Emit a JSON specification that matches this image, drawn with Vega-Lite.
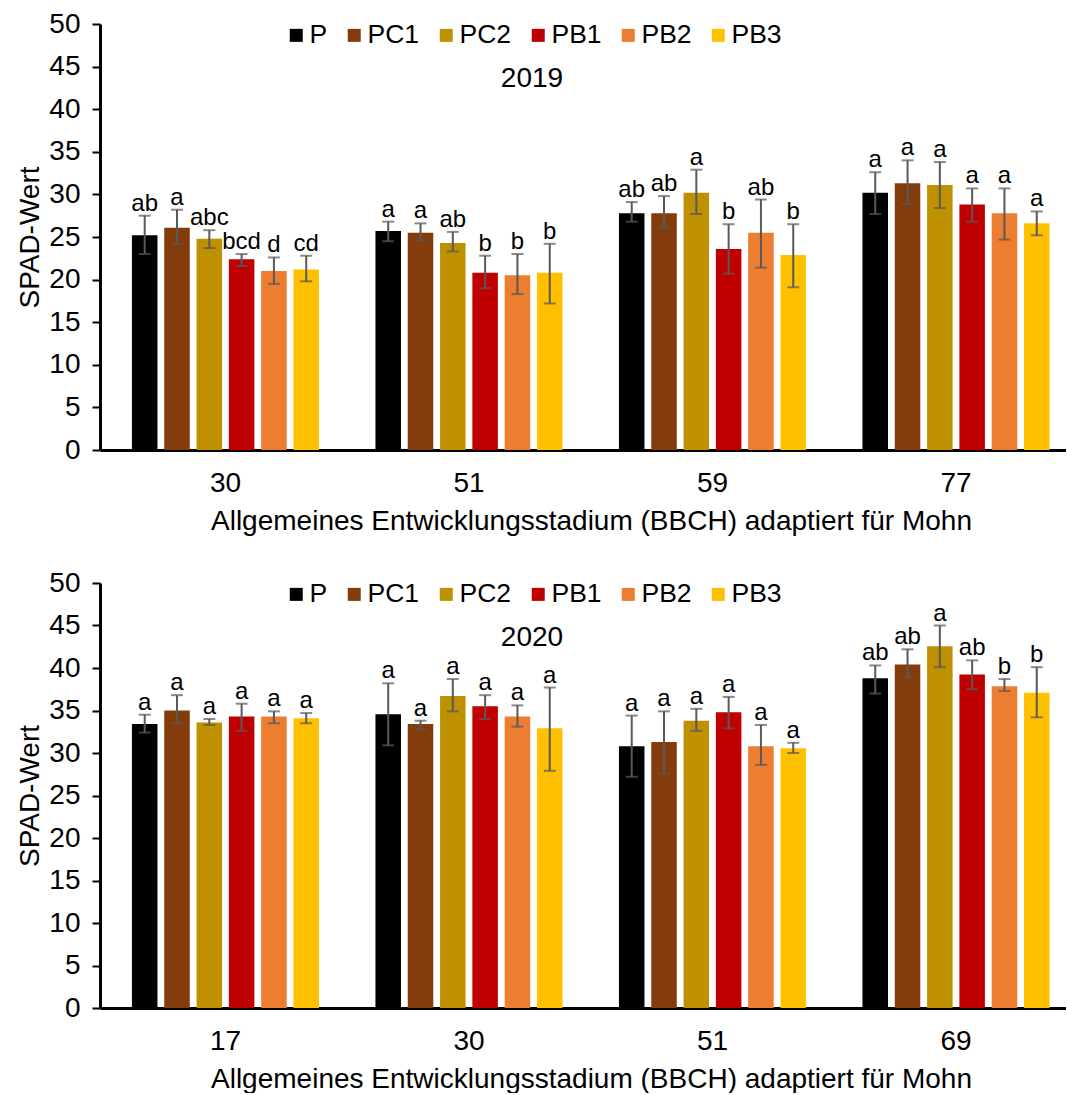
{
  "$schema": "https://vega.github.io/schema/vega-lite/v6.json",
  "background": "white",
  "padding": {"left": 16, "top": 10, "right": 0, "bottom": 0},
  "datasets": {
    "spad": [
      {"year": "2019", "stage": "30", "trt": "P", "mean": 25.2, "lo": 23.0, "hi": 27.5, "sig": "ab"},
      {"year": "2019", "stage": "30", "trt": "PC1", "mean": 26.1, "lo": 24.2, "hi": 28.2, "sig": "a"},
      {"year": "2019", "stage": "30", "trt": "PC2", "mean": 24.8, "lo": 23.7, "hi": 25.8, "sig": "abc"},
      {"year": "2019", "stage": "30", "trt": "PB1", "mean": 22.4, "lo": 21.6, "hi": 23.0, "sig": "bcd"},
      {"year": "2019", "stage": "30", "trt": "PB2", "mean": 21.0, "lo": 19.5, "hi": 22.6, "sig": "d"},
      {"year": "2019", "stage": "30", "trt": "PB3", "mean": 21.2, "lo": 19.8, "hi": 22.8, "sig": "cd"},
      {"year": "2019", "stage": "51", "trt": "P", "mean": 25.7, "lo": 24.5, "hi": 26.8, "sig": "a"},
      {"year": "2019", "stage": "51", "trt": "PC1", "mean": 25.5, "lo": 24.6, "hi": 26.6, "sig": "a"},
      {"year": "2019", "stage": "51", "trt": "PC2", "mean": 24.3, "lo": 23.3, "hi": 25.6, "sig": "ab"},
      {"year": "2019", "stage": "51", "trt": "PB1", "mean": 20.8, "lo": 19.0, "hi": 22.8, "sig": "b"},
      {"year": "2019", "stage": "51", "trt": "PB2", "mean": 20.5, "lo": 18.3, "hi": 23.0, "sig": "b"},
      {"year": "2019", "stage": "51", "trt": "PB3", "mean": 20.8, "lo": 17.2, "hi": 24.2, "sig": "b"},
      {"year": "2019", "stage": "59", "trt": "P", "mean": 27.8, "lo": 26.8, "hi": 29.1, "sig": "ab"},
      {"year": "2019", "stage": "59", "trt": "PC1", "mean": 27.8, "lo": 26.1, "hi": 29.8, "sig": "ab"},
      {"year": "2019", "stage": "59", "trt": "PC2", "mean": 30.2, "lo": 27.7, "hi": 32.9, "sig": "a"},
      {"year": "2019", "stage": "59", "trt": "PB1", "mean": 23.6, "lo": 20.7, "hi": 26.5, "sig": "b"},
      {"year": "2019", "stage": "59", "trt": "PB2", "mean": 25.5, "lo": 21.4, "hi": 29.4, "sig": "ab"},
      {"year": "2019", "stage": "59", "trt": "PB3", "mean": 22.9, "lo": 19.1, "hi": 26.5, "sig": "b"},
      {"year": "2019", "stage": "77", "trt": "P", "mean": 30.2, "lo": 27.7, "hi": 32.6, "sig": "a"},
      {"year": "2019", "stage": "77", "trt": "PC1", "mean": 31.3, "lo": 28.9, "hi": 34.0, "sig": "a"},
      {"year": "2019", "stage": "77", "trt": "PC2", "mean": 31.1, "lo": 28.4, "hi": 33.8, "sig": "a"},
      {"year": "2019", "stage": "77", "trt": "PB1", "mean": 28.8, "lo": 26.8, "hi": 30.7, "sig": "a"},
      {"year": "2019", "stage": "77", "trt": "PB2", "mean": 27.8, "lo": 24.7, "hi": 30.7, "sig": "a"},
      {"year": "2019", "stage": "77", "trt": "PB3", "mean": 26.6, "lo": 25.2, "hi": 28.0, "sig": "a"},
      {"year": "2020", "stage": "17", "trt": "P", "mean": 33.4, "lo": 32.4, "hi": 34.5, "sig": "a"},
      {"year": "2020", "stage": "17", "trt": "PC1", "mean": 35.0, "lo": 33.5, "hi": 36.8, "sig": "a"},
      {"year": "2020", "stage": "17", "trt": "PC2", "mean": 33.6, "lo": 33.3, "hi": 34.0, "sig": "a"},
      {"year": "2020", "stage": "17", "trt": "PB1", "mean": 34.3, "lo": 32.6, "hi": 35.8, "sig": "a"},
      {"year": "2020", "stage": "17", "trt": "PB2", "mean": 34.3, "lo": 33.5, "hi": 34.9, "sig": "a"},
      {"year": "2020", "stage": "17", "trt": "PB3", "mean": 34.1, "lo": 33.5, "hi": 34.7, "sig": "a"},
      {"year": "2020", "stage": "30", "trt": "P", "mean": 34.55, "lo": 30.9, "hi": 38.2, "sig": "a"},
      {"year": "2020", "stage": "30", "trt": "PC1", "mean": 33.4, "lo": 32.8, "hi": 33.8, "sig": "a"},
      {"year": "2020", "stage": "30", "trt": "PC2", "mean": 36.7, "lo": 34.9, "hi": 38.7, "sig": "a"},
      {"year": "2020", "stage": "30", "trt": "PB1", "mean": 35.5, "lo": 34.0, "hi": 36.8, "sig": "a"},
      {"year": "2020", "stage": "30", "trt": "PB2", "mean": 34.3, "lo": 33.1, "hi": 35.6, "sig": "a"},
      {"year": "2020", "stage": "30", "trt": "PB3", "mean": 32.9, "lo": 27.9, "hi": 37.7, "sig": "a"},
      {"year": "2020", "stage": "51", "trt": "P", "mean": 30.8, "lo": 27.2, "hi": 34.4, "sig": "a"},
      {"year": "2020", "stage": "51", "trt": "PC1", "mean": 31.3, "lo": 27.6, "hi": 34.9, "sig": "a"},
      {"year": "2020", "stage": "51", "trt": "PC2", "mean": 33.8, "lo": 32.6, "hi": 35.2, "sig": "a"},
      {"year": "2020", "stage": "51", "trt": "PB1", "mean": 34.8, "lo": 32.9, "hi": 36.6, "sig": "a"},
      {"year": "2020", "stage": "51", "trt": "PB2", "mean": 30.8, "lo": 28.6, "hi": 33.3, "sig": "a"},
      {"year": "2020", "stage": "51", "trt": "PB3", "mean": 30.55, "lo": 30.0, "hi": 31.2, "sig": "a"},
      {"year": "2020", "stage": "69", "trt": "P", "mean": 38.8, "lo": 37.0, "hi": 40.3, "sig": "ab"},
      {"year": "2020", "stage": "69", "trt": "PC1", "mean": 40.4, "lo": 38.9, "hi": 42.2, "sig": "ab"},
      {"year": "2020", "stage": "69", "trt": "PC2", "mean": 42.55, "lo": 40.1, "hi": 45.0, "sig": "a"},
      {"year": "2020", "stage": "69", "trt": "PB1", "mean": 39.25, "lo": 37.5, "hi": 40.9, "sig": "ab"},
      {"year": "2020", "stage": "69", "trt": "PB2", "mean": 37.85, "lo": 37.3, "hi": 38.7, "sig": "b"},
      {"year": "2020", "stage": "69", "trt": "PB3", "mean": 37.1, "lo": 34.2, "hi": 40.1, "sig": "b"}
    ]
  },
  "spacing": 133,
  "bounds": "flush",
  "vconcat": [
    {
      "width": 966,
      "height": 426,
      "data": {"name": "spad"},
      "transform": [{"filter": "datum.year === '2019'"}],
      "encoding": {
        "x": {"field": "stage", "type": "nominal", "sort": null,
              "scale": {"paddingInner": 0.2, "paddingOuter": 0.0835, "align": 0.69},
              "axis": {"title": "Allgemeines Entwicklungsstadium (BBCH) adaptiert für Mohn"}},
        "xOffset": {"field": "trt", "type": "nominal", "sort": ["P", "PC1", "PC2", "PB1", "PB2", "PB3"],
                    "scale": {"paddingInner": 0.21, "paddingOuter": 0.12}}
      },
      "layer": [
        {"mark": {"type": "bar"},
         "encoding": {
           "y": {"field": "mean", "type": "quantitative", "title": "SPAD-Wert",
                 "scale": {"domain": [0, 50], "nice": false},
                 "axis": {"values": [0, 5, 10, 15, 20, 25, 30, 35, 40, 45, 50]}},
           "color": {"field": "trt", "type": "nominal", "sort": ["P", "PC1", "PC2", "PB1", "PB2", "PB3"],
                     "scale": {"domain": ["P", "PC1", "PC2", "PB1", "PB2", "PB3"],
                               "range": ["#000000", "#843C0C", "#BF9000", "#C00000", "#ED7D31", "#FFC000"]},
                     "legend": {"title": "2019"}}
         }},
        {"mark": {"type": "rule", "color": "#595959", "strokeWidth": 2},
         "encoding": {"y": {"field": "lo", "type": "quantitative", "title": "SPAD-Wert"}, "y2": {"field": "hi"}}},
        {"mark": {"type": "tick", "orient": "horizontal", "color": "#595959", "size": 12, "thickness": 2},
         "encoding": {"y": {"field": "lo", "type": "quantitative", "title": "SPAD-Wert"}}},
        {"mark": {"type": "tick", "orient": "horizontal", "color": "#595959", "size": 12, "thickness": 2},
         "encoding": {"y": {"field": "hi", "type": "quantitative", "title": "SPAD-Wert"}}},
        {"mark": {"type": "text", "baseline": "alphabetic", "dy": -5, "fontSize": 24, "color": "black"},
         "encoding": {"y": {"field": "hi", "type": "quantitative", "title": "SPAD-Wert"}, "text": {"field": "sig"}}}
      ]
    },
    {
      "width": 966,
      "height": 425,
      "data": {"name": "spad"},
      "transform": [{"filter": "datum.year === '2020'"}],
      "encoding": {
        "x": {"field": "stage", "type": "nominal", "sort": null,
              "scale": {"paddingInner": 0.2, "paddingOuter": 0.0835, "align": 0.69},
              "axis": {"title": "Allgemeines Entwicklungsstadium (BBCH) adaptiert für Mohn"}},
        "xOffset": {"field": "trt", "type": "nominal", "sort": ["P", "PC1", "PC2", "PB1", "PB2", "PB3"],
                    "scale": {"paddingInner": 0.21, "paddingOuter": 0.12}}
      },
      "layer": [
        {"mark": {"type": "bar"},
         "encoding": {
           "y": {"field": "mean", "type": "quantitative", "title": "SPAD-Wert",
                 "scale": {"domain": [0, 50], "nice": false},
                 "axis": {"values": [0, 5, 10, 15, 20, 25, 30, 35, 40, 45, 50]}},
           "color": {"field": "trt", "type": "nominal", "sort": ["P", "PC1", "PC2", "PB1", "PB2", "PB3"],
                     "scale": {"domain": ["P", "PC1", "PC2", "PB1", "PB2", "PB3"],
                               "range": ["#000000", "#843C0C", "#BF9000", "#C00000", "#ED7D31", "#FFC000"]},
                     "legend": {"title": "2020"}}
         }},
        {"mark": {"type": "rule", "color": "#595959", "strokeWidth": 2},
         "encoding": {"y": {"field": "lo", "type": "quantitative", "title": "SPAD-Wert"}, "y2": {"field": "hi"}}},
        {"mark": {"type": "tick", "orient": "horizontal", "color": "#595959", "size": 12, "thickness": 2},
         "encoding": {"y": {"field": "lo", "type": "quantitative", "title": "SPAD-Wert"}}},
        {"mark": {"type": "tick", "orient": "horizontal", "color": "#595959", "size": 12, "thickness": 2},
         "encoding": {"y": {"field": "hi", "type": "quantitative", "title": "SPAD-Wert"}}},
        {"mark": {"type": "text", "baseline": "alphabetic", "dy": -5, "fontSize": 24, "color": "black"},
         "encoding": {"y": {"field": "hi", "type": "quantitative", "title": "SPAD-Wert"}, "text": {"field": "sig"}}}
      ]
    }
  ],
  "resolve": {"scale": {"x": "independent", "xOffset": "independent", "y": "independent", "color": "independent"}, "legend": {"color": "independent"}},
  "config": {
    "font": "Liberation Sans",
    "view": {"stroke": null},
    "axis": {"grid": false, "labelColor": "black", "titleColor": "black", "labelFontSize": 28, "titleFontSize": 28,
             "titleFontWeight": "normal", "domainColor": "black", "tickColor": "black", "labelFont": "Liberation Sans", "titleFont": "Liberation Sans"},
    "axisY": {"tickSize": 8, "tickWidth": 2, "domainWidth": 3, "labelPadding": 12, "titlePadding": 4},
    "axisX": {"ticks": false, "tickSize": 0, "domainWidth": 3, "labelPadding": 19, "titlePadding": 10, "labelAngle": 0, "titleX": 491},
    "legend": {"orient": "none", "legendX": 183, "legendY": -2, "direction": "horizontal", "symbolType": "square",
               "symbolSize": 169, "symbolStrokeWidth": 0, "labelFontSize": 26.5, "labelOffset": 0, "columnPadding": 13,
               "titleOrient": "bottom", "titleAnchor": "middle", "titleFontSize": 28, "titleFontWeight": "normal",
               "titlePadding": 16, "padding": 0, "labelColor": "black", "titleColor": "black", "labelFont": "Liberation Sans", "titleFont": "Liberation Sans"}
  }
}
